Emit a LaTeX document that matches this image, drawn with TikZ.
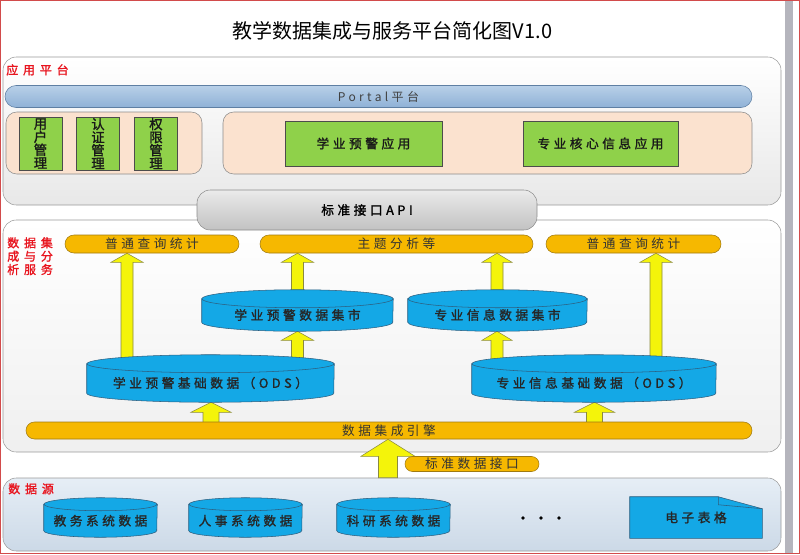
\documentclass[tikz,border=0pt]{standalone}
\usepackage{fontspec}
\setmainfont{Noto Sans CJK SC}
\newfontfamily\lbl{Noto Sans CJK SC}[LetterSpace=28]
\newfontfamily\lblb{Noto Sans CJK SC}[LetterSpace=28,FakeBold=1.5]
\newfontfamily\vlbl{Noto Sans CJK SC}[FakeBold=1.5]
\newfontfamily\redlbl{Noto Sans CJK SC}[LetterSpace=40,FakeBold=1.5]
\usetikzlibrary{calc,shapes.misc}
\definecolor{frameRed}{HTML}{D24B4B}
\definecolor{barGray}{HTML}{B5B5BD}
\definecolor{panelLine}{HTML}{9A9A9A}
\definecolor{portalTop}{HTML}{B8D0E8}
\definecolor{portalBot}{HTML}{8FB1D6}
\definecolor{portalLine}{HTML}{5E7FA3}
\definecolor{peach}{HTML}{FBE2CF}
\definecolor{appGreen}{HTML}{8FD14A}
\definecolor{pillOrange}{HTML}{F6B800}
\definecolor{pillLine}{HTML}{A07A10}
\definecolor{arrowYellow}{HTML}{F4F40A}
\definecolor{arrowLine}{HTML}{8A8A40}
\definecolor{dbBlue}{HTML}{14A8E6}
\definecolor{dbLine}{HTML}{2E5E7E}
\definecolor{srcTop}{HTML}{E6EEF6}
\definecolor{srcBot}{HTML}{CCD9E7}
\definecolor{labelRed}{HTML}{E8141E}
\pgfdeclarelayer{bg}
\pgfdeclarelayer{arr}
\pgfdeclarelayer{shp}
\pgfsetlayers{bg,arr,shp,main}
\tikzset{
  wd/.style={minimum width=(#1)*0.75pt},
  ht/.style={minimum height=(#1)*0.75pt},
  panel/.style={draw=panelLine, rounded corners=10pt, inner sep=0pt},
  redlab/.style={text=labelRed, font=\redlbl\fontsize{9}{10}\selectfont, anchor=north west, inner sep=0pt, align=left},
  portalbar/.style={rounded rectangle, draw=portalLine, top color=portalTop, bottom color=portalBot, inner sep=0pt, text=black!75, font=\lbl\fontsize{9}{11}\selectfont},
  group/.style={draw=black!45, fill=peach, rounded corners=8pt, inner sep=0pt},
  appbox/.style={draw=black!70, fill=appGreen, inner sep=0pt, align=center, text=black!90, font=\lblb\fontsize{9.5}{11}\selectfont},
  mgmtbox/.style={appbox, wd=43, ht=53, font=\vlbl\fontsize{10}{9.8}\selectfont},
  apibox/.style={draw=black!45, top color=black!8, bottom color=black!24, rounded corners=10pt, inner sep=0pt, font=\lblb\fontsize{9.5}{11}\selectfont},
  pill/.style={rounded rectangle, draw=pillLine, fill=pillOrange, inner sep=0pt, text=black!80, font=\lbl\fontsize{9.5}{11}\selectfont},
  db/.style={draw=dbLine, fill=dbBlue},
  dbtext/.style={inner sep=0pt, text=black!85, font=\lblb\fontsize{9.5}{11}\selectfont},
  yarrow/.style={draw=arrowLine, fill=arrowYellow, line join=miter}
}
\newcommand\dbcyl[7]{%
  \node[dbtext, wd=#4, ht=#5-#6] (#1) at (#2,#3+#6/2+#5/2) {#7};
  \begin{pgfonlayer}{shp}
  \filldraw[db] (#1.north west) -- ([yshift=#6*0.75pt]#1.south west) arc[start angle=180,end angle=0,x radius=#4/2,y radius=#6] -- (#1.north east) -- cycle;
  \filldraw[db] (#1.north) ellipse[x radius=#4/2,y radius=#6];
  \end{pgfonlayer}}
\newcommand\blockup[6]{%
  \begin{pgfonlayer}{arr}
  \draw[yarrow] let \p1=(#1,0), \p2=(#2), \p3=(#3) in
    (\x1-#4*0.75pt,\y2) -- (\x1-#4*0.75pt,\y3-#6*0.75pt) -- (\x1-#5*0.75pt,\y3-#6*0.75pt) -- (\x1,\y3)
    -- (\x1+#5*0.75pt,\y3-#6*0.75pt) -- (\x1+#4*0.75pt,\y3-#6*0.75pt) -- (\x1+#4*0.75pt,\y2) -- cycle;
  \end{pgfonlayer}}
\begin{document}
\begin{tikzpicture}[x=0.75pt,y=-0.75pt]
\useasboundingbox (0,0) rectangle (800,554);
\begin{pgfonlayer}{bg}
\fill[white] (0,0) rectangle (800,554);
\fill[barGray] (785,0) rectangle (793,554);
\draw[frameRed, line width=1pt] (0.7,0.7) rectangle (799.3,553.3);
\node[panel, wd=778, ht=148, top color=white, bottom color=black!9] (app) at (392,131) {};
\node[panel, wd=778, ht=232, top color=white, bottom color=black!6] (dis) at (392,336) {};
\node[panel, wd=778, ht=73, top color=srcTop, bottom color=srcBot] (src) at (392,514.5) {};
\end{pgfonlayer}
\node (title) at (392.5,31) {\fontsize{15}{18}\selectfont 教学数据集成与服务平台简化图V1.0};
\node[redlab] (applab) at (6,64) {应用平台};
\node[redlab] (dislab) at (7,237) {数据集\\成与分\\析服务};
\node[redlab] (srclab) at (8,483) {数据源};
\node[portalbar, wd=747, ht=22] (portal) at (378.5,96.5) {Portal平台};
\node[group, wd=196, ht=62] (mgmt) at (104,143) {};
\node[group, wd=529, ht=62] (apps) at (487.5,143) {};
\node[mgmtbox] (user) at (40.5,143.5) {用\\户\\管\\理};
\node[mgmtbox] (auth) at (98,143.5) {认\\证\\管\\理};
\node[mgmtbox] (perm) at (156,143.5) {权\\限\\管\\理};
\node[appbox, wd=157, ht=45] (warnapp) at (363.5,143.5) {学业预警应用};
\node[appbox, wd=155, ht=45] (coreapp) at (600.5,143.5) {专业核心信息应用};
\node[apibox, wd=340, ht=40] (api) at (367,210) {标准接口API};
\node[pill, wd=174, ht=18] (qA) at (152,244) {普通查询统计};
\node[pill, wd=273, ht=18] (topic) at (396.5,244) {主题分析等};
\node[pill, wd=175, ht=18] (qB) at (633.5,244) {普通查询统计};
\dbcyl{martA}{297.5}{290}{191}{41}{9}{学业预警数据集市}
\dbcyl{martB}{497.5}{290}{179}{41}{9}{专业信息数据集市}
\dbcyl{odsA}{210.5}{355}{247}{47}{9}{学业预警基础数据（ODS）}
\dbcyl{odsB}{594}{355}{244}{47}{9}{专业信息基础数据（ODS）}
\node[pill, wd=726, ht=17] (engine) at (389,430.5) {数据集成引擎};
\node[pill, wd=134, ht=15] (stdif) at (472,464) {标准数据接口};
\dbcyl{jw}{100.5}{498}{113}{39}{6.5}{教务系统数据}
\dbcyl{rs}{245.5}{498}{113}{39}{6.5}{人事系统数据}
\dbcyl{ky}{393.5}{498}{113}{39}{6.5}{科研系统数据}
\node[dbtext, wd=132, ht=41] (sheet) at (696,517.5) {电子表格};
\begin{pgfonlayer}{shp}
\filldraw[db] (sheet.south west) -- (sheet.north west) -- ([xshift=-44*0.75pt]sheet.north east) -- ([yshift=-12*0.75pt]sheet.north east) -- (sheet.south east) -- cycle;
\draw[dbLine] ([xshift=-44*0.75pt]sheet.north east) -- ++(0,8) -- ([yshift=-12*0.75pt]sheet.north east);
\end{pgfonlayer}
\foreach \dx in {523,541,559} \fill[black] (\dx,518) circle[radius=1.8];
\blockup{127}{odsA.center}{qA.south}{6}{16}{9}
\blockup{297.5}{martA.center}{topic.south}{6}{16}{9}
\blockup{497}{martB.center}{topic.south}{6}{15}{9}
\blockup{656}{odsB.center}{qB.south}{6}{16}{9}
\blockup{297.5}{odsA.center}{martA.south}{6}{16}{9}
\blockup{497}{odsB.center}{martB.south}{6}{15}{9}
\blockup{211}{engine.center}{odsA.south}{8}{20}{10}
\blockup{594.5}{engine.center}{odsB.south}{8}{20}{10}
\blockup{388}{src.north}{engine.south}{9.5}{27}{17}
\end{tikzpicture}
\end{document}
